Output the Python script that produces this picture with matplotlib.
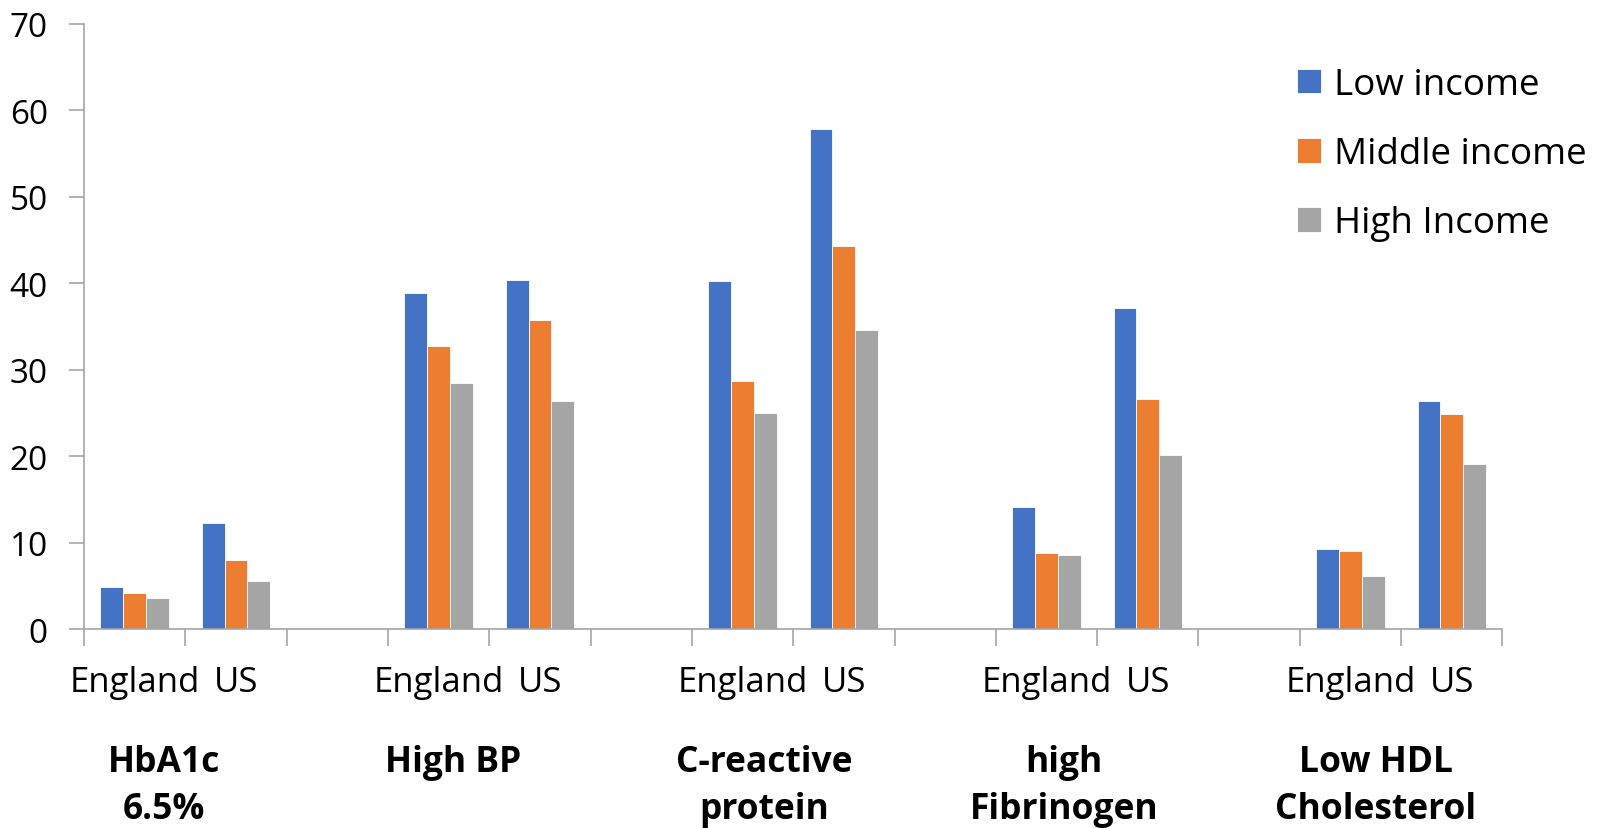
import matplotlib
matplotlib.use('Agg')
import matplotlib.pyplot as plt
import numpy as np

plt.rcParams['font.family'] = ['Open Sans', 'DejaVu Sans']

countries = ['England', 'US', '', 'England', 'US', '', 'England', 'US', '',
             'England', 'US', '', 'England', 'US']
measures = ['HbA1c\n6.5%', 'High BP', 'C-reactive\nprotein',
            'high\nFibrinogen', 'Low HDL\nCholesterol']
series = ['Low income', 'Middle income', 'High Income']

low_income = [4.9, 12.3, None, 38.9, 40.4, None, 40.2, 57.8, None,
              14.1, 37.1, None, 9.3, 26.4]
middle_income = [4.2, 8.0, None, 32.7, 35.7, None, 28.7, 44.3, None,
                 8.8, 26.6, None, 9.0, 24.9]
high_income = [3.6, 5.6, None, 28.5, 26.4, None, 25.0, 34.6, None,
               8.6, 20.1, None, 6.1, 19.1]

colors = ['#4472C4', '#ED7D31', '#A5A5A5']


def to_arr(vals):
    return np.array([np.nan if v is None else v for v in vals], dtype=float)


def driver():
    fig = plt.figure(figsize=(16, 8.29), dpi=100)
    ax = fig.add_axes([0.0525, 0.24, 0.8865, 0.73])

    x = np.arange(len(countries))
    w = 0.225
    data = [to_arr(low_income), to_arr(middle_income), to_arr(high_income)]
    for i, (vals, c, lab) in enumerate(zip(data, colors, series)):
        ax.bar(x + (i - 1) * w, np.nan_to_num(vals), width=w, color=c,
               edgecolor='white', linewidth=0.6, label=lab, zorder=2)

    ax.set_xlim(-0.5, len(countries) - 0.5)
    ax.set_ylim(0, 70)
    ax.set_yticks(range(0, 71, 10))

    ax.set_xticks(np.arange(-0.5, len(countries), 1.0))
    ax.set_xticklabels([])
    ax.set_xticks(x, minor=True)
    ax.set_xticklabels(countries, minor=True)
    ax.tick_params(axis='x', which='major', length=12, width=1.2,
                   color='#A6A6A6', direction='out')
    ax.tick_params(axis='x', which='minor', length=0, pad=26, labelsize=25)
    ax.tick_params(axis='y', length=11, width=1.2, color='#A6A6A6',
                   pad=15, labelsize=24)

    for s in ['top', 'right']:
        ax.spines[s].set_visible(False)
    for s in ['left', 'bottom']:
        ax.spines[s].set_color('#A6A6A6')
        ax.spines[s].set_linewidth(1.2)

    label_x = [0.29, 3.14, 6.21, 9.17, 12.25]
    for lx, m in zip(label_x, measures):
        ax.text(lx, -0.19, m, transform=ax.get_xaxis_transform(),
                ha='center', va='top', fontsize=25.5, fontweight='bold',
                linespacing=1.4)

    ax.legend(loc='upper left', bbox_to_anchor=(0.799, 0.94),
              bbox_transform=fig.transFigure, frameon=False, fontsize=26.5,
              handlelength=0.65, handleheight=0.65, handletextpad=0.35,
              labelspacing=0.9, borderpad=0)

    fig.savefig('out.png', dpi=100)


def main():
    driver()


main()
